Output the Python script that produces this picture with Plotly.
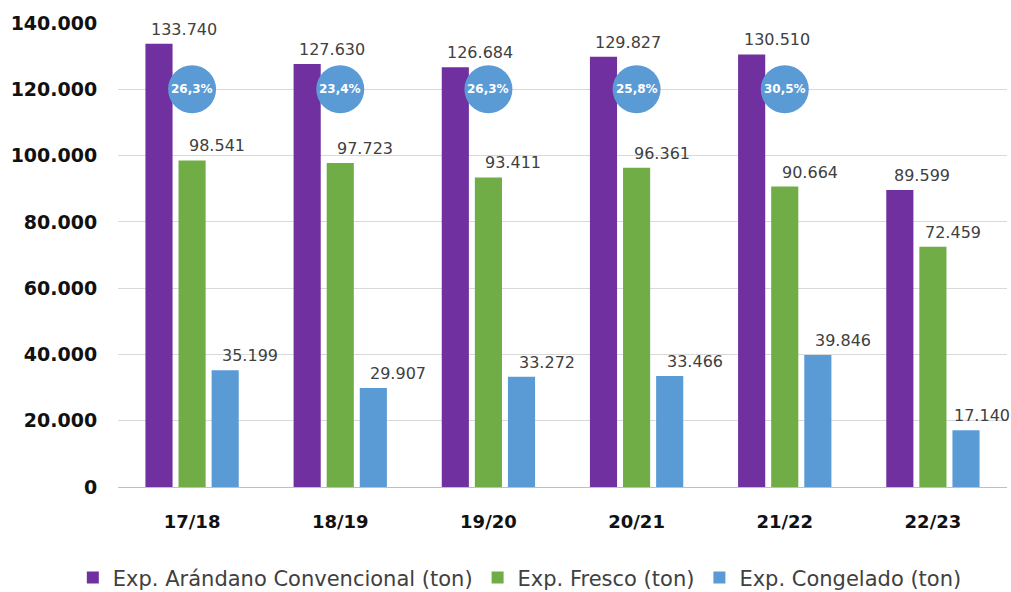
import plotly.graph_objects as go

categories = ["17/18", "18/19", "19/20", "20/21", "21/22", "22/23"]
convencional = [133740, 127630, 126684, 129827, 130510, 89599]
fresco = [98541, 97723, 93411, 96361, 90664, 72459]
congelado = [35199, 29907, 33272, 33466, 39846, 17140]
pct_congelado = ["26,3%", "23,4%", "26,3%", "25,8%", "30,5%"]

names = ["Exp. Arándano Convencional (ton)", "Exp. Fresco (ton)", "Exp. Congelado (ton)"]
colors = ["#7030A0", "#70AD47", "#5B9BD5"]
series = [convencional, fresco, congelado]

FONT = "DejaVu Sans"
BARGAP = 0.33
GROUPGAP = 0.18
slot = (1 - BARGAP) / 3

fig = go.Figure()
for name, col, vals in zip(names, colors, series):
    fig.add_trace(go.Bar(x=categories, y=vals, name=name, marker_color=col,
                         marker_line_width=0))

def fmt(v):
    return f"{v:,}".replace(",", ".")

# labels sit to the upper-right of each bar; in the last group they are pulled in
# so they stay inside the chart (as in the source)
last_group_shift = [22, 20, 16]
annotations = []
for k, vals in enumerate(series):
    for i, v in enumerate(vals):
        xs = last_group_shift[k] if i == len(vals) - 1 else 25
        annotations.append(dict(x=i + (k - 1) * slot, y=v, xref="x", yref="y",
                                text=fmt(v), showarrow=False, xshift=xs, yanchor="bottom",
                                yshift=3,
                                font=dict(family=FONT, size=16, color="#404040")))

shapes = []
for i, p in enumerate(pct_congelado):
    shapes.append(dict(type="circle", xref="x", yref="y", xsizemode="pixel", ysizemode="pixel",
                       xanchor=i, yanchor=120000, x0=-24, x1=24, y0=-24, y1=24,
                       fillcolor="#5B9BD5", line=dict(width=0), layer="above"))
    annotations.append(dict(x=i, y=120000, xref="x", yref="y", text=f"<b>{p}</b>",
                            showarrow=False,
                            font=dict(family=FONT, size=12, color="white")))

fig.update_layout(
    width=1011, height=592,
    barmode="group", bargap=BARGAP, bargroupgap=GROUPGAP,
    separators=",.",
    plot_bgcolor="white", paper_bgcolor="white",
    margin=dict(l=118, r=4, t=23, b=105, autoexpand=False),
    showlegend=True,
    legend=dict(orientation="h", x=0.452, xanchor="center", y=-0.196, yanchor="middle",
                font=dict(family=FONT, size=21, color="#404040"),
                traceorder="normal", itemwidth=30),
    xaxis=dict(range=[-0.5, len(categories) - 0.5], autorange=False,
               showgrid=False, showline=True, linecolor="#bfbfbf", linewidth=1,
               automargin=False,
               ticks="outside", ticklen=18, tickcolor="rgba(0,0,0,0)",
               tickfont=dict(family=FONT, size=18, color="#111111", weight="bold")),
    yaxis=dict(range=[0, 140000], autorange=False, dtick=20000, tickformat=",d", showgrid=True,
               automargin=False,
               gridcolor="#d9d9d9", gridwidth=1, zeroline=False,
               ticks="outside", ticklen=16, tickcolor="rgba(0,0,0,0)",
               tickfont=dict(family=FONT, size=19, color="#111111", weight="bold")),
    annotations=annotations, shapes=shapes,
)

fig.write_html("out.html", config={"displayModeBar": False},
               post_script="document.body.style.margin='0';document.body.style.overflow='hidden';")
